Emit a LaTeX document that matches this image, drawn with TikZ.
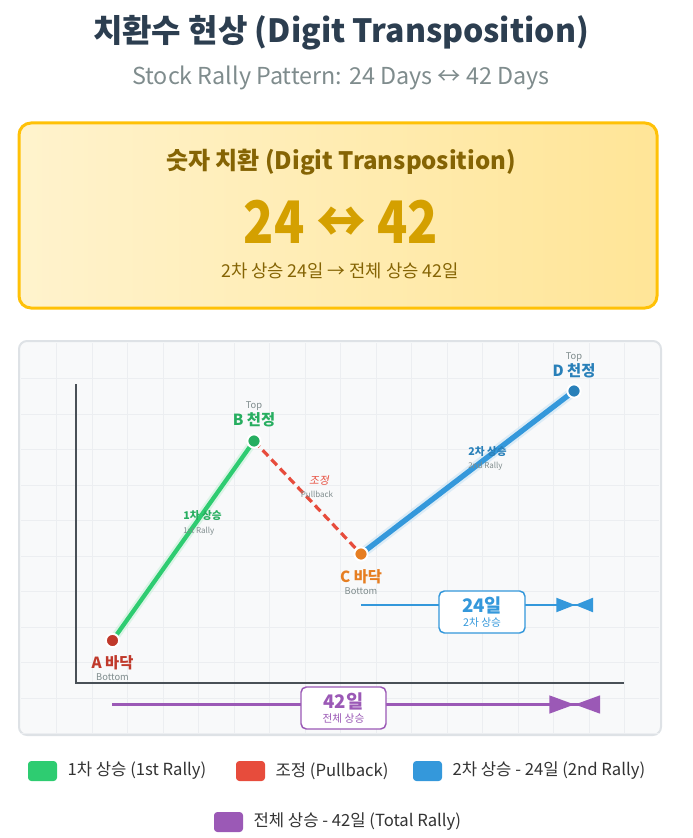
\documentclass[tikz,border=0pt]{standalone}
\usepackage{fontspec}
\setmainfont{Noto Sans CJK KR}[AutoFakeSlant=0.2]
\usepackage{xcolor}
\usepackage{tikz}
\definecolor{titledark}{HTML}{2C3E50}
\definecolor{subgray}{HTML}{7F8C8D}
\definecolor{goldline}{HTML}{FFC107}
\definecolor{goldlight}{HTML}{FFF3CD}
\definecolor{golddark}{HTML}{FFE597}
\definecolor{goldtext}{HTML}{856404}
\definecolor{goldbig}{HTML}{D4A000}
\definecolor{panelfill}{HTML}{F8F9FA}
\definecolor{panelline}{HTML}{DEE2E6}
\definecolor{gridline}{HTML}{ECEEF1}
\definecolor{axisgray}{HTML}{495057}
\definecolor{rallygreen}{HTML}{2ECC71}
\definecolor{darkgreen}{HTML}{27AE60}
\definecolor{pullred}{HTML}{E74C3C}
\definecolor{darkred}{HTML}{C0392B}
\definecolor{bottomorange}{HTML}{E67E22}
\definecolor{rallyblue}{HTML}{3498DB}
\definecolor{darkblue}{HTML}{2980B9}
\definecolor{totalpurple}{HTML}{9B59B6}
\definecolor{legendtext}{HTML}{333333}
\usetikzlibrary{arrows.meta, positioning}

\begin{document}
\begin{tikzpicture}[
    x=0.75pt, y=-0.75pt,
    point/.style={circle, draw=white, line width=1.5pt, minimum size=10pt, inner sep=0pt},
    ptname/.style={font=\fontsize{11.5}{13}\selectfont\bfseries, inner sep=0pt},
    ptsub/.style={font=\fontsize{7}{8}\selectfont, text=subgray, inner sep=0pt},
    seglabel/.style={font=\fontsize{8}{9}\selectfont\bfseries, inner sep=0pt},
    segsub/.style={font=\fontsize{6}{7}\selectfont, text=subgray, inner sep=0pt},
    daybox/.style={rectangle, fill=white, line width=1.1pt, rounded corners=4pt,
                   minimum height=31.5pt, inner sep=0pt, align=center},
    legbox/.style={rectangle, rounded corners=2.5pt, minimum width=21.75pt,
                   minimum height=15pt, inner sep=0pt},
    legtext/.style={font=\fontsize{12.5}{15}\selectfont, text=legendtext, inner sep=0pt}
]
    \useasboundingbox (0,0) rectangle (692,838);

    \node[font=\fontsize{24}{28}\selectfont\bfseries, text=titledark] (title) at (341,33)
        {치환수 현상 (Digit Transposition)};
    \node[font=\fontsize{17.5}{21}\selectfont, text=subgray] (subtitle) at (341,78)
        {Stock Rally Pattern: 24 Days ↔ 42 Days};

    \node[rectangle, rounded corners=9pt, draw=goldline, line width=2.25pt,
          left color=goldlight, right color=golddark,
          minimum width=478.5pt, minimum height=138.75pt] (hl) at (338,215.5) {};
    \node[font=\fontsize{18}{21}\selectfont\bfseries, text=goldtext] (hltitle) at (341,162)
        {숫자 치환 (Digit Transposition)};
    \node[font=\fontsize{44}{50}\selectfont\bfseries, text=goldbig, xscale=0.85, transform shape]
        (swap) at (341,222) {24 ↔ 42};
    \node[font=\fontsize{13.3}{16}\selectfont, text=goldtext] (hlnote) at (340,271)
        {2차 상승 24일 → 전체 상승 42일};

    \node[rectangle, rounded corners=6pt, draw=panelline, line width=1.5pt, fill=panelfill,
          minimum width=481.5pt, minimum height=295.5pt] (panel) at (340,538) {};
    \begin{scope}
        \clip (21,343) rectangle (659,733);
        \foreach \i in {1,...,17}
            \draw[gridline, line width=0.75pt] ({21+35.5*\i},343) -- ({21+35.5*\i},733);
        \foreach \i in {1,...,11}
            \draw[gridline, line width=0.75pt] (21,{343+35.5*\i}) -- (659,{343+35.5*\i});
    \end{scope}

    \coordinate (ytop) at (76,384);
    \coordinate (orig) at (76,683);
    \coordinate (xend) at (624,683);
    \draw[axisgray, line width=2pt] (ytop) -- (orig) -- (xend);

    \coordinate (a) at (112.5,640.5);
    \coordinate (b) at (254,441);
    \coordinate (c) at (361,554);
    \coordinate (d) at (574,391);

    \draw[rallygreen!30, line width=6.5pt, opacity=0.5] (a) -- (b);
    \draw[rallygreen, line width=3.2pt] (a) -- (b);
    \draw[pullred, line width=2.4pt, dash pattern=on 6pt off 3.5pt] (b) -- (c);
    \draw[rallyblue!30, line width=7.5pt, opacity=0.5] (c) -- (d);
    \draw[rallyblue, line width=4pt] (c) -- (d);

    \node[point, fill=darkred] (A) at (a) {};
    \node[point, fill=darkgreen] (B) at (b) {};
    \node[point, fill=bottomorange] (C) at (c) {};
    \node[point, fill=darkblue] (D) at (d) {};

    \node[ptname, text=darkred, below=5.5pt of A] (Aname) {A 바닥};
    \node[ptsub, below=2pt of Aname] (Asub) {Bottom};
    \node[ptname, text=darkgreen, above=4.5pt of B] (Bname) {B 천정};
    \node[ptsub, above=1pt of Bname] (Bsub) {Top};
    \node[ptname, text=bottomorange, below=6pt of C] (Cname) {C 바닥};
    \node[ptsub, below=2pt of Cname] (Csub) {Bottom};
    \node[ptname, text=darkblue, above=4pt of D] (Dname) {D 천정};
    \node[ptsub, above=1pt of Dname] (Dsub) {Top};

    \node[seglabel, text=darkgreen, anchor=west] (r1) at (183,516) {1차 상승};
    \node[segsub, anchor=west] (r1sub) at (183,531) {1st Rally};
    \node[seglabel, text=pullred, font=\fontsize{8}{9}\selectfont\itshape] (pb) at (319,480) {조정};
    \node[segsub] (pbsub) at (317,494) {Pullback};
    \node[seglabel, text=darkblue, anchor=west] (r2) at (468,452) {2차 상승};
    \node[segsub, anchor=west] (r2sub) at (468,466) {2nd Rally};

    \coordinate (s24) at (361,605);
    \coordinate (e24) at (593,605);
    \draw[rallyblue, line width=1.5pt,
          -{Triangle[length=14pt,width=10.5pt,sep=0pt]Triangle[length=13.5pt,width=10.5pt,reversed]}]
          (s24) -- (e24);
    \node[daybox, draw=rallyblue, minimum width=64.5pt] (d24) at (482,612)
        {{\fontsize{14}{16}\selectfont\bfseries\color{rallyblue}24일}\\[-1pt]
         {\fontsize{8}{9}\selectfont\color{rallyblue}2차 상승}};

    \coordinate (s42) at (112,704.5);
    \coordinate (e42) at (600,704.5);
    \draw[totalpurple, line width=2.6pt,
          -{Triangle[length=19pt,width=13pt,sep=0pt]Triangle[length=19pt,width=13pt,reversed]}]
          (s42) -- (e42);
    \node[daybox, draw=totalpurple, minimum width=63.75pt] (d42) at (343.5,708)
        {{\fontsize{14}{16}\selectfont\bfseries\color{totalpurple}42일}\\[-1pt]
         {\fontsize{8}{9}\selectfont\color{totalpurple}전체 상승}};

    \node[legbox, fill=rallygreen] (lg1) at (42.5,771) {};
    \node[legtext, right=7.5pt of lg1] (lt1) {1차 상승 (1st Rally)};
    \node[legbox, fill=pullred] (lg2) at (250.5,771) {};
    \node[legtext, right=7.5pt of lg2] (lt2) {조정 (Pullback)};
    \node[legbox, fill=rallyblue] (lg3) at (427.5,771) {};
    \node[legtext, right=7.5pt of lg3] (lt3) {2차 상승 - 24일 (2nd Rally)};
    \node[legbox, fill=totalpurple] (lg4) at (228.5,822) {};
    \node[legtext, right=7.5pt of lg4] (lt4) {전체 상승 - 42일 (Total Rally)};
\end{tikzpicture}
\end{document}
